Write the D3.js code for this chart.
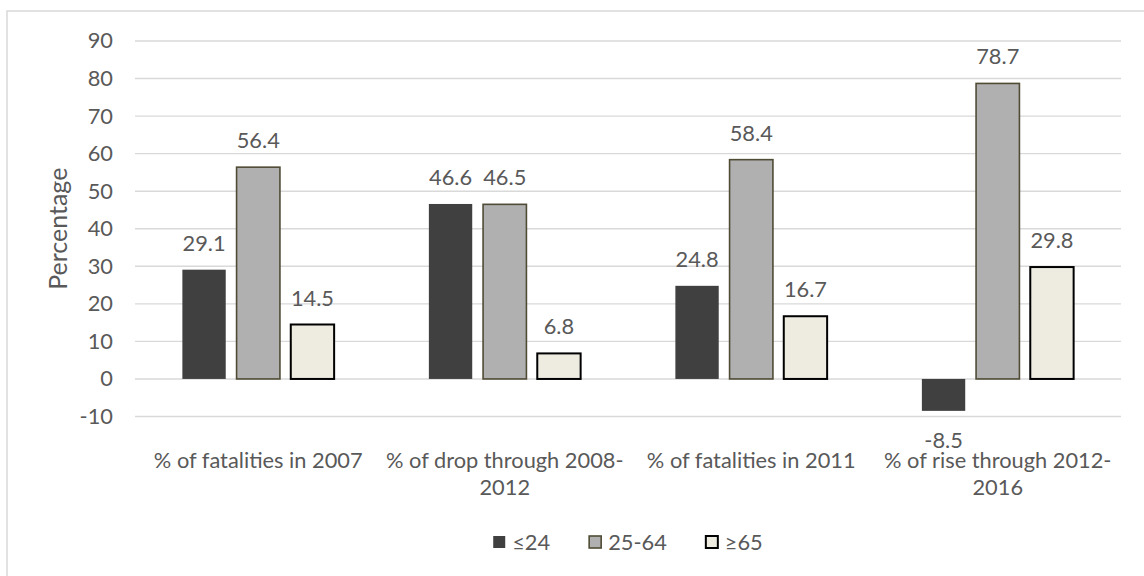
<!DOCTYPE html>
<html>
<head>
<meta charset="utf-8">
<script src="https://cdn.jsdelivr.net/npm/d3@7/dist/d3.min.js"></script>
<style>
  html, body { margin: 0; padding: 0; background: #ffffff; }
  svg { display: block; }
  text { font-family: Lato, "Open Sans", sans-serif; fill: #595959; }
</style>
</head>
<body>
<svg id="chart" width="1144" height="576"></svg>
<script>
// Age-group shares of road fatalities and their change over time
const categories = [
  "% of fatalities in 2007",
  "% of drop through 2008-2012",
  "% of fatalities in 2011",
  "% of rise through 2012-2016"
];
const seriesNames = ["\u226424", "25-64", "\u226565"];
const valuesUnder24 = [29.1, 46.6, 24.8, -8.5];
const values25to64 = [56.4, 46.5, 58.4, 78.7];
const values65plus = [14.5, 6.8, 16.7, 29.8];
const yTickValues = [-10, 0, 10, 20, 30, 40, 50, 60, 70, 80, 90];
const yTitle = "Percentage";

const seriesValues = [valuesUnder24, values25to64, values65plus];
const seriesStyle = [
  { fill: "#404040", stroke: "none", width: 0 },
  { fill: "#b0b0b0", stroke: "#4f4b35", width: 1.6 },
  { fill: "#eeece1", stroke: "#000000", width: 2 }
];

const svg = d3.select("#chart");
const fontSize = 21.8;

// Outer chart frame
svg.append("rect")
  .attr("x", 7).attr("y", 11)
  .attr("width", 1160).attr("height", 600)
  .attr("fill", "none")
  .attr("stroke", "#d9d9d9")
  .attr("stroke-width", 1.5);

const plot = { left: 135, right: 1121, top: 41, bottom: 416.5 };

const x0 = d3.scaleBand()
  .domain(categories)
  .range([plot.left, plot.right])
  .padding(0);

const x1 = d3.scaleBand()
  .domain(seriesNames)
  .range([0, x0.bandwidth()])
  .paddingInner(0.2)
  .paddingOuter(0.874);

const y = d3.scaleLinear()
  .domain([-10, 90])
  .range([plot.bottom, plot.top]);

// Horizontal gridlines
svg.append("g")
  .selectAll("line")
  .data(yTickValues)
  .join("line")
  .attr("x1", plot.left)
  .attr("x2", plot.right)
  .attr("y1", d => y(d))
  .attr("y2", d => y(d))
  .attr("stroke", "#d9d9d9")
  .attr("stroke-width", 1.4);

// Y axis tick labels (plain hyphen for negatives)
const yAxis = d3.axisLeft(y)
  .tickValues(yTickValues)
  .tickFormat(d => String(d))
  .tickSize(0)
  .tickPadding(22);
const yg = svg.append("g")
  .attr("transform", `translate(${plot.left},0)`)
  .call(yAxis);
yg.select(".domain").remove();
yg.selectAll("text")
  .attr("font-size", fontSize)
  .attr("font-family", "Lato, 'Open Sans', sans-serif")
  .attr("fill", "#595959");

// Y axis title
svg.append("text")
  .attr("transform", `translate(67,${(plot.top + plot.bottom) / 2}) rotate(-90)`)
  .attr("text-anchor", "middle")
  .attr("font-size", 25)
  .text(yTitle);

// Bars
const groups = svg.append("g")
  .selectAll("g")
  .data(categories)
  .join("g")
  .attr("transform", d => `translate(${x0(d)},0)`);

const cells = groups.selectAll("g.cell")
  .data((cat, ci) => seriesNames.map((s, si) => ({ s, si, v: seriesValues[si][ci] })))
  .join("g")
  .attr("class", "cell");

cells.append("rect")
  .attr("x", d => x1(d.s))
  .attr("width", x1.bandwidth())
  .attr("y", d => y(Math.max(0, d.v)))
  .attr("height", d => Math.abs(y(d.v) - y(0)))
  .attr("fill", d => seriesStyle[d.si].fill)
  .attr("stroke", d => seriesStyle[d.si].stroke)
  .attr("stroke-width", d => seriesStyle[d.si].width);

// Value labels
cells.append("text")
  .attr("x", d => x1(d.s) + x1.bandwidth() / 2)
  .attr("y", d => d.v >= 0 ? y(d.v) - 19 : y(d.v) + 37)
  .attr("text-anchor", "middle")
  .attr("font-size", fontSize)
  .text(d => d.v.toFixed(1));

// Category labels, wrapped after the year-range hyphen
const catG = svg.append("g");
categories.forEach(cat => {
  const lines = cat.split(/(?<=-)(?=\d{4}$)/);
  const t = catG.append("text")
    .attr("text-anchor", "middle")
    .attr("font-size", fontSize);
  lines.forEach((ln, i) => {
    t.append("tspan")
      .attr("x", x0(cat) + x0.bandwidth() / 2)
      .attr("y", 468 + i * 27)
      .text(ln);
  });
});

// Legend
const legend = svg.append("g");
const sq = 12, gapText = 7, gapItem = 39;
let cursor = 0;
seriesNames.forEach((name, i) => {
  const g = legend.append("g");
  g.append("rect")
    .attr("x", 0).attr("y", -sq / 2)
    .attr("width", sq).attr("height", sq)
    .attr("fill", seriesStyle[i].fill)
    .attr("stroke", seriesStyle[i].stroke)
    .attr("stroke-width", seriesStyle[i].width);
  const t = g.append("text")
    .attr("x", sq + gapText)
    .attr("dy", "0.35em")
    .attr("font-size", fontSize)
    .text(name);
  const w = sq + gapText + t.node().getComputedTextLength();
  g.attr("transform", `translate(${cursor},0)`);
  cursor += w + gapItem;
});
const legendWidth = cursor - gapItem;
legend.attr("transform", `translate(${(plot.left + plot.right) / 2 - legendWidth / 2},542)`);
</script>
</body>
</html>
